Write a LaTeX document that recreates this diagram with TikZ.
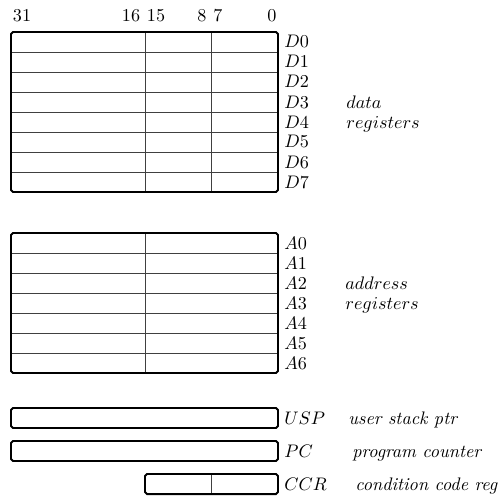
\documentclass[tikz,border=0pt]{standalone}

\begin{document}
\begin{tikzpicture}[x=0.606pt,y=-0.606pt,
  regbox/.style={line width=1.2pt,rounded corners=1.2pt},
  sep/.style={line width=0.45pt,black!75},
  bitno/.style={anchor=base,inner sep=0pt,scale=1.1},
  regname/.style={anchor=base west,inner sep=0pt,scale=1.1},
  regnote/.style={anchor=base west,inner sep=0pt,scale=1.1}]
\useasboundingbox (0,0) rectangle (504,498);
% bit numbers
\node[bitno] (b31) at (22,22) {31};
\node[bitno] (b16) at (131,22) {16};
\node[bitno] (b15) at (156,22) {15};
\node[bitno] (b8) at (202,22) {8};
\node[bitno] (b7) at (218,22) {7};
\node[bitno] (b0) at (272,22) {0};
% data registers
\draw[sep] (11,52)--(278,52) (11,72)--(278,72) (11,92)--(278,92) (11,112)--(278,112)
    (11,132)--(278,132) (11,152)--(278,152) (11,172)--(278,172);
\draw[sep] (145,32)--(145,192) (211,32)--(211,192);
\draw[regbox] (11,32) rectangle (278,192);
\node[regname] (d0) at (284,48) {$D0$};
\node[regname] (d1) at (284,68) {$D1$};
\node[regname] (d2) at (284,88) {$D2$};
\node[regname] (d3) at (284,108) {$D3$};
\node[regname] (d4) at (284,128) {$D4$};
\node[regname] (d5) at (284,148) {$D5$};
\node[regname] (d6) at (284,168) {$D6$};
\node[regname] (d7) at (284,188) {$D7$};
\node[regnote] (datanote) at (346,108) {$data$};
\node[regnote] (datareg) at (346,128) {$registers$};
% address registers
\draw[sep] (11,253)--(278,253) (11,273)--(278,273) (11,293)--(278,293)
    (11,313)--(278,313) (11,333)--(278,333) (11,353)--(278,353);
\draw[sep] (145,233)--(145,373);
\draw[regbox] (11,233) rectangle (278,373);
\node[regname] (a0) at (284,249) {$A0$};
\node[regname] (a1) at (284,269) {$A1$};
\node[regname] (a2) at (284,289) {$A2$};
\node[regname] (a3) at (284,309) {$A3$};
\node[regname] (a4) at (284,329) {$A4$};
\node[regname] (a5) at (284,349) {$A5$};
\node[regname] (a6) at (284,369) {$A6$};
\node[regnote] (addrnote) at (345,289) {$address$};
\node[regnote] (addrreg) at (345,309) {$registers$};
% usp, pc, ccr
\draw[regbox] (11,408) rectangle (278,428);
\node[regname] (usp) at (284,424) {$USP$};
\node[regnote] (uspnote) at (348,424) {\textit{user stack ptr}};
\draw[regbox] (11,441) rectangle (278,461);
\node[regname] (pc) at (284,457) {$PC$};
\node[regnote] (pcnote) at (352,457) {\textit{program counter}};
\draw[sep] (211,474)--(211,494);
\draw[regbox] (145,474) rectangle (278,494);
\node[regname] (ccr) at (284,490) {$CCR$};
\node[regnote] (ccrnote) at (355,490) {\textit{condition code reg}};
\end{tikzpicture}
\end{document}
